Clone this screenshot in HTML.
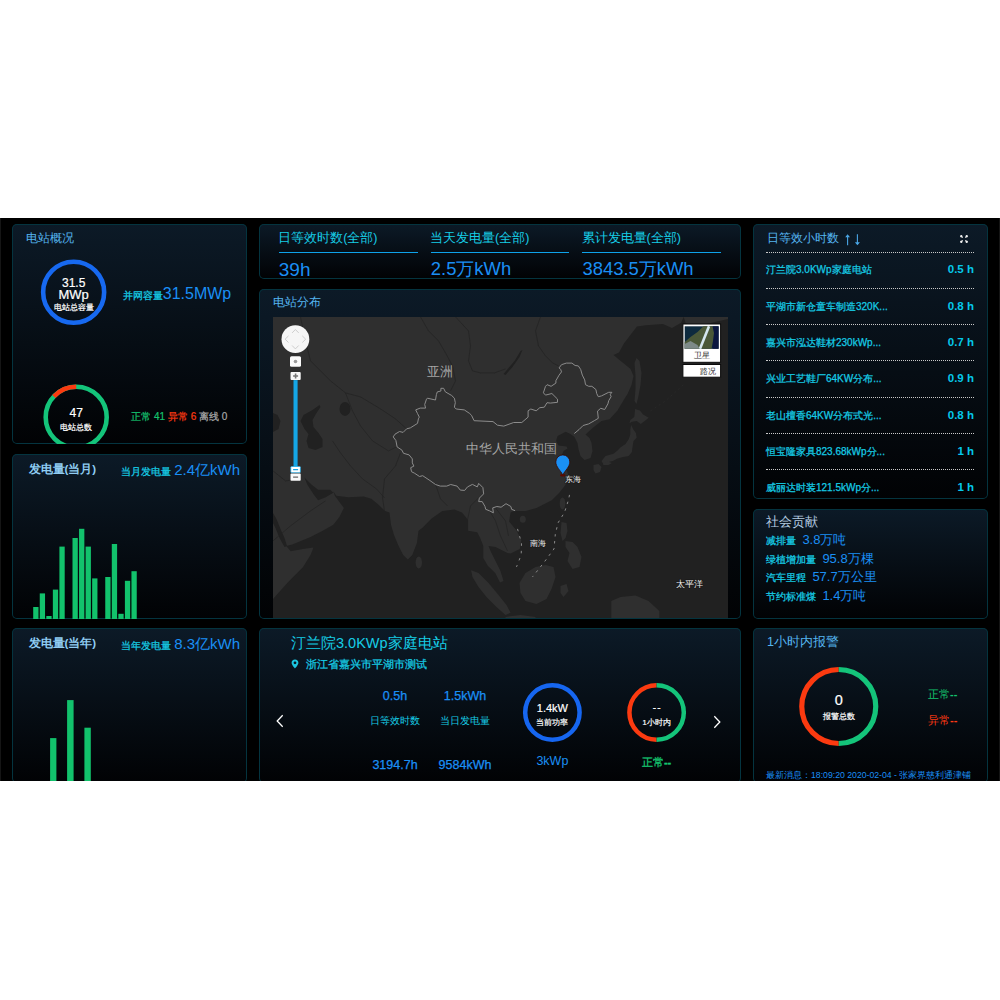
<!DOCTYPE html>
<html><head><meta charset="utf-8">
<style>
*{margin:0;padding:0;box-sizing:border-box}
html,body{width:1000px;height:1000px;background:#fff;overflow:hidden;font-family:"Liberation Sans",sans-serif}
#scr{position:absolute;left:0;top:218px;width:1000px;height:563px;background:#000;overflow:hidden}
#scr:before{content:"";position:absolute;left:0;top:0;width:1px;height:100%;background:#151515}
#scr:after{content:"";position:absolute;right:0;top:0;width:1px;height:100%;background:#151515}
.p{position:absolute;border-radius:5px;overflow:hidden;background:linear-gradient(180deg,#0c1a27 0%,#010204 100%);box-shadow:inset 0 0 0 1px #04343f}
.t{position:absolute;white-space:nowrap;line-height:1}
.ttl{color:#55b5f0;font-size:12.5px}
.cy{color:#16cde6;-webkit-text-stroke:0.25px #16cde6}
.bl{color:#1a8ff5;-webkit-text-stroke:0}
.wh{color:#fff;-webkit-text-stroke:0.2px #fff}
.gn{color:#14c26e}
.rd{color:#ff3a12}
.ctr{text-align:center}
.dl{position:absolute;left:13px;width:208px;height:0;border-top:1px dotted #c9c9c9}
.row{position:absolute;left:13px;width:208px;font-size:10px;line-height:1;color:#16cde6;-webkit-text-stroke:0.25px #16cde6;white-space:nowrap}
.row b{position:absolute;right:0;top:-1px;font-size:11.5px;color:#05c8ea;-webkit-text-stroke:0}
</style></head><body>
<div id="scr">
<!-- ============ LEFT COLUMN ============ -->
<div class="p" style="left:12px;top:6px;width:235px;height:220px">
  <div class="t ttl" style="left:13.5px;top:7.5px;font-size:12.2px">电站概况</div>
  <svg style="position:absolute;left:0;top:0" width="235" height="220">
    <circle cx="61.65" cy="68.25" r="30.5" fill="none" stroke="#1769f0" stroke-width="4.6"/>
    <g transform="translate(64.2,193.3)">
      <circle r="30.5" fill="none" stroke="#14c47a" stroke-width="4.6"/>
      <path d="M0,-30.5 A30.5,30.5 0 0 0 -22.3,-20.8" fill="none" stroke="#fb3a10" stroke-width="4.6"/>
    </g>
  </svg>
  <div class="t wh ctr" style="left:31.65px;width:60px;top:52.7px;font-size:12px">31.5</div>
  <div class="t wh ctr" style="left:31.65px;width:60px;top:63.7px;font-size:13px">MWp</div>
  <div class="t wh ctr" style="left:31.65px;width:60px;top:80px;font-size:7.6px">电站总容量</div>
  <div class="t cy" style="left:110.8px;top:62.3px;font-size:10px">并网容量<span class="bl" style="font-size:16px">31.5MWp</span></div>
  <div class="t wh ctr" style="left:34.2px;width:60px;top:183px;font-size:12px">47</div>
  <div class="t wh ctr" style="left:34.2px;width:60px;top:200px;font-size:7.6px">电站总数</div>
  <div class="t" style="left:119.2px;top:188px;font-size:10px;-webkit-text-stroke:0.2px currentColor"><span class="gn">正常 41</span> <span class="rd">异常 6</span> <span style="color:#aaa">离线 0</span></div>
</div>

<div class="p" style="left:12px;top:236px;width:235px;height:165px">
  <div class="t" style="left:16.5px;top:9.5px;font-size:11.5px;font-weight:bold;color:#8fcdf3">发电量(当月)</div>
  <div class="t cy" style="left:109.4px;top:8px;font-size:10px">当月发电量 <span class="bl" style="font-size:15px">2.4亿kWh</span></div>
  <svg style="position:absolute;left:0;top:0" width="235" height="165" id="mbar"><rect x="21.20" y="153.0" width="5.3" height="17.0" fill="#12c26c"/><rect x="27.75" y="139.4" width="5.3" height="30.6" fill="#12c26c"/><rect x="34.30" y="162.0" width="5.3" height="8.0" fill="#12c26c"/><rect x="40.85" y="135.6" width="5.3" height="34.4" fill="#12c26c"/><rect x="47.40" y="92.6" width="5.3" height="77.4" fill="#12c26c"/><rect x="60.50" y="84.0" width="5.3" height="86.0" fill="#12c26c"/><rect x="67.05" y="74.8" width="5.3" height="95.2" fill="#12c26c"/><rect x="73.60" y="92.6" width="5.3" height="77.4" fill="#12c26c"/><rect x="80.15" y="124.4" width="5.3" height="45.6" fill="#12c26c"/><rect x="93.25" y="123.0" width="5.3" height="47.0" fill="#12c26c"/><rect x="99.80" y="90.0" width="5.3" height="80.0" fill="#12c26c"/><rect x="106.35" y="159.8" width="5.3" height="10.2" fill="#12c26c"/><rect x="112.90" y="126.8" width="5.3" height="43.2" fill="#12c26c"/><rect x="119.45" y="117.2" width="5.3" height="52.8" fill="#12c26c"/></svg>
</div>

<div class="p" style="left:12px;top:410px;width:235px;height:155px">
  <div class="t" style="left:16.5px;top:9.5px;font-size:11.5px;font-weight:bold;color:#8fcdf3">发电量(当年)</div>
  <div class="t cy" style="left:109.4px;top:8px;font-size:10px">当年发电量 <span class="bl" style="font-size:15px">8.3亿kWh</span></div>
  <svg style="position:absolute;left:0;top:0" width="235" height="180">
    <rect x="38.1" y="110.1" width="6.3" height="70" fill="#12c26c"/>
    <rect x="55.1" y="72.1" width="6.5" height="110" fill="#12c26c"/>
    <rect x="72.4" y="99.7" width="6.4" height="80" fill="#12c26c"/>
  </svg>
</div>

<!-- ============ MIDDLE COLUMN ============ -->
<div class="p" style="left:259px;top:6px;width:482px;height:55px">
  <div class="t cy" style="left:19.2px;top:7.5px;font-size:12.5px;-webkit-text-stroke:0">日等效时数(全部)</div>
  <div class="t cy" style="left:171px;top:7.5px;font-size:12.5px;-webkit-text-stroke:0">当天发电量(全部)</div>
  <div class="t cy" style="left:322.5px;top:7.5px;font-size:12.5px;-webkit-text-stroke:0">累计发电量(全部)</div>
  <div style="position:absolute;left:19.7px;top:27.8px;width:139.3px;height:1.3px;background:#0ea2ea"></div>
  <div style="position:absolute;left:171.5px;top:27.8px;width:138.8px;height:1.3px;background:#0ea2ea"></div>
  <div style="position:absolute;left:323.3px;top:27.8px;width:138.6px;height:1.3px;background:#0ea2ea"></div>
  <div class="t bl" style="left:19.8px;top:35.5px;font-size:19px">39h</div>
  <div class="t bl" style="left:171.8px;top:35.5px;font-size:18.4px">2.5万kWh</div>
  <div class="t bl" style="left:323.5px;top:35.5px;font-size:18.4px">3843.5万kWh</div>
</div>

<div class="p" style="left:259px;top:71px;width:482px;height:330px">
  <div class="t ttl" style="left:13.5px;top:7px;font-size:12.2px">电站分布</div>
  <div id="map" style="position:absolute;left:13.5px;top:27.5px;width:455px;height:301.5px;background:#222;overflow:hidden"><svg width="455" height="301.5" viewBox="272.5 316.1 455 301.5" style="position:absolute;left:0;top:0"><rect x="272.5" y="316.1" width="455" height="301.5" fill="#2f2f2f"/>
<polygon points="683.2,316.1 727.5,316.1 727.5,617.6 272.5,617.6 272.5,598.2 287.2,581.5 302.4,566.3 310.0,554.1 313.0,546.5 302.4,548.0 290.2,550.3 285.7,545.0 291.8,543.5 310.0,536.0 322.2,529.8 332.8,523.8 338.9,516.2 343.4,507.0 338.9,501.0 334.3,494.9 332.8,490.3 335.8,494.9 348.0,496.4 363.2,495.6 370.8,497.9 378.4,504.0 384.5,510.1 389.0,511.6 390.5,523.8 393.6,534.4 398.1,545.0 402.7,554.1 407.3,558.7 411.8,554.1 416.4,542.0 418.0,529.8 422.0,526.8 431.1,517.7 441.8,510.1 453.9,508.6 461.5,511.6 467.6,519.2 467.6,529.8 476.7,531.4 479.8,537.4 482.8,545.0 482.8,557.2 487.3,564.8 494.9,572.4 499.5,581.5 503.0,580.0 500.0,570.0 495.0,560.0 490.0,550.0 488.0,545.0 495.0,546.0 503.0,550.0 507.0,552.0 510.1,552.6 519.3,548.0 520.8,539.0 516.2,529.8 508.6,520.7 510.1,511.6 513.2,510.0 525.3,510.0 536.0,507.0 551.2,499.4 558.8,491.8 564.9,484.2 568.0,475.1 566.0,468.0 563.0,462.0 561.0,455.0 563.0,450.0 567.0,447.5 566.0,445.5 558.0,444.5 555.6,440.0 557.0,435.0 565.2,430.8 570.0,433.0 574.0,436.0 577.0,442.0 578.0,448.0 580.0,455.0 584.0,459.0 590.0,457.0 592.0,450.0 591.0,442.0 589.0,437.0 585.0,433.6 593.0,426.4 601.0,420.0 609.0,418.4 617.0,409.6 622.6,400.0 627.0,393.0 631.0,384.0 633.0,375.0 630.0,368.0 624.0,363.0 618.6,358.8 613.0,354.0 618.5,351.7 623.4,342.6 636.4,325.7 645.5,324.4 662.4,323.1 671.5,327.0 680.6,321.8" fill="#212121"/>
<polygon points="317.0,400.0 319.0,404.0 312.0,409.0 303.0,414.0 300.0,420.0 304.0,428.0 308.0,433.0 306.0,440.0 308.0,447.0 315.0,449.0 322.0,446.0 322.0,438.0 318.0,432.0 313.0,426.0 312.0,419.0 316.0,412.0 320.0,406.0" fill="#212121"/>
<ellipse cx="344.5" cy="408" rx="5.5" ry="7" fill="#212121"/>
<polygon points="272.5,412.0 277.0,414.0 280.0,420.0 278.0,428.0 272.5,431.0" fill="#212121"/>
<polygon points="303.9,476.6 311.5,484.2 317.6,488.8 329.8,488.8 332.8,491.8 325.2,496.4 317.6,499.4 313.0,493.4 307.0,484.2" fill="#212121"/>
<polygon points="272.5,512.0 276.0,518.0 280.0,528.0 284.0,537.0 286.5,545.0 284.0,546.0 279.0,537.0 275.0,527.0 272.5,522.0" fill="#212121"/>
<polygon points="503.0,373.0 508.0,367.0 514.0,360.0 520.0,350.0 522.0,349.0 519.0,356.0 512.0,366.0 505.0,374.0" fill="#212121"/>
<polygon points="630.6,424.0 633.0,428.8 635.4,432.0 636.2,436.8 633.0,440.0 632.2,444.8 631.4,451.2 628.2,455.2 622.6,456.0 617.0,457.6 612.2,460.0 609.0,460.8 603.4,464.0 601.0,460.0 605.0,455.2 613.0,452.8 617.0,449.6 620.2,446.4 625.0,443.2 628.2,438.4 629.8,433.6 629.8,428.8" fill="#2f2f2f"/>
<polygon points="634.6,408.0 639.4,409.6 642.6,413.6 648.2,416.8 644.2,420.0 640.2,423.2 636.2,420.0 631.4,420.8 629.0,422.4 629.8,419.2 633.8,416.0" fill="#2f2f2f"/>
<polygon points="593.0,464.0 598.0,463.0 601.0,466.0 599.5,471.0 595.0,472.5 593.0,469.0" fill="#2f2f2f"/>
<polygon points="602.6,461.5 608.0,460.8 611.4,462.0 608.0,464.0 603.0,464.2" fill="#2f2f2f"/>
<polygon points="636.0,357.0 639.0,360.0 641.0,372.0 640.0,384.0 638.0,395.0 636.0,403.0 634.0,400.0 635.0,388.0 635.0,375.0 634.0,362.0" fill="#2f2f2f"/>
<polygon points="683.2,316.1 727.5,316.1 727.5,318.0 710.0,322.0 695.0,326.0 685.0,322.0" fill="#2f2f2f"/>
<polygon points="561.0,521.0 566.0,522.0 567.0,530.0 565.0,537.0 562.0,540.0 560.0,532.0" fill="#2f2f2f"/>
<polygon points="565.0,540.0 572.0,541.0 577.0,546.0 581.0,556.0 579.0,566.0 572.0,568.0 567.0,560.0 569.0,552.0 565.0,546.0" fill="#2f2f2f"/>
<polygon points="519.0,582.0 525.0,572.0 535.0,566.0 545.0,564.0 553.0,566.0 555.0,576.0 551.0,588.0 546.0,598.0 536.0,603.0 525.0,600.0 520.0,592.0" fill="#2f2f2f"/>
<polygon points="470.6,569.3 478.0,572.0 488.0,582.0 498.0,594.0 506.0,604.0 510.1,611.9 505.0,614.0 496.0,606.0 486.0,596.0 478.0,586.0 472.0,576.0" fill="#2f2f2f"/>
<polygon points="505.0,616.0 520.0,614.0 535.0,616.0 535.0,617.6 505.0,617.6" fill="#2f2f2f"/>
<polygon points="560.0,585.0 566.0,583.0 568.0,590.0 563.0,596.0 560.0,592.0" fill="#2f2f2f"/>
<polygon points="610.8,600.0 620.0,596.0 635.0,594.7 648.0,600.0 658.8,610.0 658.8,617.6 610.8,617.6" fill="#2f2f2f"/>
<ellipse cx="562" cy="502.5" rx="2.8" ry="6" fill="#2f2f2f"/>
<ellipse cx="522.3" cy="518.4" rx="3" ry="3.5" fill="#2f2f2f"/>
<ellipse cx="418.3" cy="561.7" rx="3.2" ry="6" fill="#2f2f2f"/>
<polyline points="300.0,316.0 305.0,340.0 310.0,360.0 330.0,380.0 345.0,392.0 360.0,396.0 380.0,408.0 395.0,418.0 405.0,427.0" fill="none" stroke="#232323" stroke-width="0.7" stroke-linejoin="round"/>
<polyline points="420.0,316.0 428.0,330.0 438.0,340.0 445.0,352.0 452.0,365.0 455.0,380.0 450.0,390.0" fill="none" stroke="#232323" stroke-width="0.7" stroke-linejoin="round"/>
<polyline points="455.0,316.0 468.0,330.0 470.0,345.0 468.0,360.0 472.0,370.0 480.0,372.0 494.0,372.0 505.0,368.0" fill="none" stroke="#232323" stroke-width="0.7" stroke-linejoin="round"/>
<polyline points="540.0,316.0 535.0,330.0 538.0,345.0 545.0,355.0 552.0,362.0 558.0,365.0" fill="none" stroke="#232323" stroke-width="0.7" stroke-linejoin="round"/>
<polyline points="345.0,392.0 352.0,410.0 360.0,425.0 372.0,440.0 388.0,450.0 396.0,446.0" fill="none" stroke="#232323" stroke-width="0.7" stroke-linejoin="round"/>
<polyline points="332.0,440.0 340.0,452.0 350.0,465.0 362.0,478.0 376.0,488.0 384.0,497.0" fill="none" stroke="#232323" stroke-width="0.7" stroke-linejoin="round"/>
<polyline points="400.0,452.0 395.0,465.0 384.0,478.0 382.0,497.0 384.0,510.0" fill="none" stroke="#232323" stroke-width="0.7" stroke-linejoin="round"/>
<polyline points="435.0,483.0 440.0,498.0 447.0,505.0" fill="none" stroke="#232323" stroke-width="0.7" stroke-linejoin="round"/>
<polyline points="467.0,519.0 470.0,505.0 478.0,497.0" fill="none" stroke="#232323" stroke-width="0.7" stroke-linejoin="round"/>
<polyline points="489.0,510.0 495.0,520.0 500.0,535.0 507.0,550.0" fill="none" stroke="#232323" stroke-width="0.7" stroke-linejoin="round"/>
<polyline points="495.0,507.0 505.0,520.0 508.0,535.0" fill="none" stroke="#232323" stroke-width="0.7" stroke-linejoin="round"/>
<polyline points="272.5,470.0 285.0,480.0 300.0,478.0" fill="none" stroke="#232323" stroke-width="0.7" stroke-linejoin="round"/>
<polyline points="272.5,540.0 290.0,525.0 310.0,510.0 325.0,500.0" fill="none" stroke="#232323" stroke-width="0.7" stroke-linejoin="round"/>
<polyline points="514.6,509.8 511.1,508.4 510.4,505.6 505.5,502.8 500.6,506.3 496.4,505.6 492.2,507.0 492.9,511.9 488.7,509.8 485.2,508.4 484.5,505.6 481.7,500.7 478.2,500.7 478.9,497.2 483.1,493.0 482.4,486.7 478.2,482.5 476.8,486.0 471.9,483.5 467.0,486.0 464.2,489.5 459.8,489.2 456.6,485.2 450.2,483.6 446.2,485.2 439.8,485.2 435.0,483.6 429.4,479.6 422.2,474.8 419.0,475.6 414.2,472.4 411.0,470.8 410.2,466.8 413.4,465.2 411.8,462.0 411.8,458.0 408.6,454.0 403.0,452.4 401.4,449.2 396.6,446.0 395.4,439.6 392.7,436.0 394.5,433.3 399.0,430.6 402.6,431.5 406.2,427.9 409.8,427.0 417.0,422.5 417.9,418.0 418.8,416.2 417.0,412.6 415.2,409.0 419.7,407.2 425.1,407.2 424.2,403.6 426.0,398.2 426.9,397.3 435.0,399.1 435.9,393.7 436.8,391.0 440.4,390.1 440.4,387.4 443.1,387.4 444.9,391.0 451.2,394.6 453.9,397.3 454.8,401.8 453.9,406.3 455.7,408.1 463.8,409.0 469.2,412.6 471.0,414.4 473.6,419.8 492.5,420.7 497.0,424.3 503.3,425.2 513.2,421.6 521.3,421.6 527.6,416.2 527.6,409.9 530.3,408.1 535.7,409.9 539.3,406.8 543.8,406.3 546.5,401.8 549.8,402.2 557.0,401.4 557.0,398.2 551.4,392.6 545.0,394.2 542.9,391.9 545.0,385.4 546.6,383.8 550.6,385.4 555.4,382.2 555.4,379.8 558.6,374.2 561.0,371.0 560.2,368.6 558.6,367.0 561.0,363.8 565.8,362.2 571.4,362.2 574.6,364.6 577.8,365.0 580.2,368.6 581.8,374.2 584.2,379.0 585.0,383.8 588.2,385.4 591.4,385.4 595.4,388.6 596.2,392.6 597.8,395.8 601.0,395.0 608.2,391.4 611.4,391.4 609.8,393.4 610.6,395.8 608.2,399.8 607.4,403.0 604.2,408.6 600.2,407.4 597.0,410.2 597.8,417.4 593.8,419.8 588.2,423.0 582.6,424.6 578.6,428.6 573.8,432.6" fill="none" stroke="#8c8c8c" stroke-width="1.0" stroke-linejoin="round"/>
<polyline points="569.0,494.0 568.0,499.0 564.0,511.5 557.5,522.0 554.8,533.5 553.5,548.0 543.5,561.5 532.0,576.0" fill="none" stroke="#8a8a8a" stroke-width="1" stroke-linejoin="round" stroke-dasharray="2.5 4.5"/>
<polyline points="517.0,528.0 521.0,542.0 520.7,554.0 516.0,566.0" fill="none" stroke="#8a8a8a" stroke-width="1" stroke-linejoin="round" stroke-dasharray="2.5 5"/>
<polyline points="650.0,410.0 665.0,400.0 685.0,382.0" fill="none" stroke="#2a2a2a" stroke-width="0.8" stroke-linejoin="round" stroke-dasharray="2 3"/>
<text x="426.5" y="375.3" font-size="12.5" fill="#a5a5a5" font-family="Liberation Sans, sans-serif">亚洲</text>
<text x="465.7" y="452.6" font-size="13" fill="#a5a5a5" font-family="Liberation Sans, sans-serif">中华人民共和国</text>
<text x="564.5" y="481.3" font-size="8" fill="#eee" font-family="Liberation Sans, sans-serif" stroke="#1a1a1a" stroke-width="1.6" paint-order="stroke" stroke-linejoin="round">东海</text>
<text x="529.9" y="545.6" font-size="8" fill="#eee" font-family="Liberation Sans, sans-serif" stroke="#1a1a1a" stroke-width="1.6" paint-order="stroke" stroke-linejoin="round">南海</text>
<text x="675.5" y="586.3" font-size="9" fill="#eee" font-family="Liberation Sans, sans-serif" stroke="#1a1a1a" stroke-width="1.6" paint-order="stroke" stroke-linejoin="round">太平洋</text>
<ellipse cx="562.3" cy="474.3" rx="2.8" ry="1.3" fill="#5a0a00"/>
<path d="M562.3,474 C560,469.5 555.3,466 555.3,461 A7,7 0 1 1 569.3,461 C569.3,466 564.6,469.5 562.3,474 Z" fill="#1a90f5" stroke="#3a0800" stroke-width="0.8"/>
<circle cx="294.9" cy="338.3" r="13.9" fill="#f6f6f6"/>
<path d="M291.6,332 L294.9,328.6 L298.2,332 M291.6,344.6 L294.9,348 L298.2,344.6 M288,335 L284.6,338.3 L288,341.6 M301.8,335 L305.2,338.3 L301.8,341.6" fill="none" stroke="#c8c8c8" stroke-width="0.9"/>
<rect x="289.5" y="355.4" width="11" height="10.5" rx="1.5" fill="#fafafa"/><circle cx="295" cy="360.6" r="1.8" fill="#9a9a9a"/>
<rect x="290" y="371" width="10.2" height="8.2" rx="1" fill="#fafafa"/><path d="M292.6,375.1 H297.6 M295.1,372.6 V377.6" stroke="#777" stroke-width="1.6"/>
<rect x="293" y="379.2" width="4.1" height="86.7" fill="#15a6e6"/>
<rect x="290.3" y="465.6" width="9.6" height="6.2" rx="0.8" fill="#fff" stroke="#15a6e6" stroke-width="0.7"/><path d="M292.6,468.7 H297.6" stroke="#15a6e6" stroke-width="1.2"/>
<rect x="290" y="472.7" width="10.2" height="7.2" rx="0.8" fill="#fafafa"/><path d="M292.6,476.3 H297.6" stroke="#666" stroke-width="1.3"/>
<rect x="682.4" y="323.1" width="37.7" height="38.3" fill="#fff" stroke="#0a0a0a" stroke-width="1"/>
<rect x="684.2" y="325.4" width="33.9" height="22.5" fill="#0d2a3e"/>
<polygon points="712,325.4 718.1,325.4 718.1,347.9 712,347.9" fill="#0b1740"/>
<polygon points="684.2,347.9 684.2,341 690,336 697,331 703,325.4 712,325.4 713.5,332 712.5,340 711,347.9" fill="#4a5838"/>
<polygon points="684.2,347.9 684.2,343 690,340 697,344 699,347.9" fill="#7d8a88"/>
<path d="M708.5,325.4 L699.5,347.9" stroke="#d4e6ee" stroke-width="2.6"/>
<text x="701.8" y="357.3" font-size="8" fill="#333" text-anchor="middle" font-family="Liberation Sans, sans-serif">卫星</text>
<rect x="682.4" y="363.6" width="37.7" height="12.7" fill="#fff" stroke="#0a0a0a" stroke-width="1"/>
<text x="707.5" y="373.4" font-size="8" fill="#333" text-anchor="middle" font-family="Liberation Sans, sans-serif">路况</text></svg></div>
</div>

<div class="p" style="left:259px;top:410px;width:482px;height:155px">
  <div class="t cy" style="left:32px;top:8.3px;font-size:14.5px;-webkit-text-stroke:0">汀兰院3.0KWp家庭电站</div>
  <svg style="position:absolute;left:32px;top:31px" width="8" height="10" viewBox="0 0 8 10"><path d="M4,0.5 C1.9,0.5 0.6,2 0.6,3.8 C0.6,6 4,9.5 4,9.5 C4,9.5 7.4,6 7.4,3.8 C7.4,2 6.1,0.5 4,0.5 Z M4,2.4 A1.4,1.4 0 1 1 4,5.2 A1.4,1.4 0 1 1 4,2.4Z" fill="#1cc6e0" fill-rule="evenodd"/></svg>
  <div class="t cy" style="left:47px;top:31px;font-size:11px">浙江省嘉兴市平湖市测试</div>
  <svg style="position:absolute;left:16px;top:86px" width="10" height="16" viewBox="0 0 10 16"><path d="M7.7,1.3 L2.2,7 L7.7,12.7" stroke="#fff" stroke-width="1.3" fill="none"/></svg>
  <div class="t bl ctr" style="left:106px;width:60px;top:61.5px;font-size:12.5px;-webkit-text-stroke:0.25px #1a8ff5">0.5h</div>
  <div class="t bl ctr" style="left:176px;width:60px;top:61.5px;font-size:12.5px;-webkit-text-stroke:0.25px #1a8ff5">1.5kWh</div>
  <div class="t cy ctr" style="left:106px;width:60px;top:88px;font-size:9.5px;-webkit-text-stroke:0">日等效时数</div>
  <div class="t cy ctr" style="left:176px;width:60px;top:88px;font-size:9.5px;-webkit-text-stroke:0">当日发电量</div>
  <div class="t bl ctr" style="left:106px;width:60px;top:130.5px;font-size:12.5px;-webkit-text-stroke:0.25px #1a8ff5">3194.7h</div>
  <div class="t bl ctr" style="left:176px;width:60px;top:130.5px;font-size:12.5px;-webkit-text-stroke:0.25px #1a8ff5">9584kWh</div>
  <svg style="position:absolute;left:0;top:0" width="482" height="180">
    <circle cx="293.4" cy="84.5" r="27.2" fill="none" stroke="#1666f0" stroke-width="4.5"/>
    <path d="M397.6,57.3 A27.2,27.2 0 0 0 397.6,111.7" fill="none" stroke="#fb3a10" stroke-width="4.5"/>
    <path d="M397.6,57.3 A27.2,27.2 0 0 1 397.6,111.7" fill="none" stroke="#14c47a" stroke-width="4.5"/>
  </svg>
  <div class="t wh ctr" style="left:263.4px;width:60px;top:75px;font-size:11px;-webkit-text-stroke:0.2px #fff">1.4kW</div>
  <div class="t wh ctr" style="left:263.4px;width:60px;top:91px;font-size:7.5px">当前功率</div>
  <div class="t bl ctr" style="left:263.4px;width:60px;top:127px;font-size:12.5px">3kWp</div>
  <div class="t wh ctr" style="left:368.2px;width:60px;top:75px;font-size:10px;letter-spacing:1.2px">--</div>
  <div class="t wh ctr" style="left:367.6px;width:60px;top:91px;font-size:7.5px">1小时内</div>
  <div class="t gn ctr" style="left:367.6px;width:60px;top:129px;font-size:11px;-webkit-text-stroke:0.3px #14c26e">正常<b>--</b></div>
  <svg style="position:absolute;left:453.5px;top:87px" width="10" height="16" viewBox="0 0 10 16"><path d="M1.3,1.3 L6.8,7 L1.3,12.7" stroke="#fff" stroke-width="1.3" fill="none"/></svg>
</div>

<!-- ============ RIGHT COLUMN ============ -->
<div class="p" style="left:753px;top:6px;width:235px;height:275px">
  <div class="t ttl" style="left:13.5px;top:8.3px;font-size:12.3px">日等效小时数</div><svg style="position:absolute;left:92px;top:8px" width="20" height="16" viewBox="845 232 20 16"><path d="M847.6,245.2 V236.5 M857.4,234.3 V243" stroke="#4aa6e6" stroke-width="1.1" fill="none"/><path d="M845.2,237.3 L847.6,234.2 L850,237.3Z M854.9,242.2 L857.4,245.3 L859.9,242.2Z" fill="#4aa6e6"/></svg>
  <svg style="position:absolute;left:205.4px;top:9.3px" width="12" height="12" viewBox="-6 -6 12 12"><path d="M-0.9,-0.9 L-3.9,-2.0 L-3.7,-3.7 L-2.0,-3.9Z M0.9,-0.9 L3.9,-2.0 L3.7,-3.7 L2.0,-3.9Z M-0.9,0.9 L-3.9,2.0 L-3.7,3.7 L-2.0,3.9Z M0.9,0.9 L3.9,2.0 L3.7,3.7 L2.0,3.9Z" fill="#f2f2f2"/></svg>
  <div class="dl" style="top:27.5px"></div>
  <div class="row" style="top:41px">汀兰院3.0KWp家庭电站<b>0.5 h</b></div>
  <div class="dl" style="top:63.5px"></div>
  <div class="row" style="top:77.5px">平湖市新仓童车制造320K...<b>0.8 h</b></div>
  <div class="dl" style="top:99.8px"></div>
  <div class="row" style="top:114px">嘉兴市泓达鞋材230kWp...<b>0.7 h</b></div>
  <div class="dl" style="top:136px"></div>
  <div class="row" style="top:150px">兴业工艺鞋厂64KW分布...<b>0.9 h</b></div>
  <div class="dl" style="top:172.5px"></div>
  <div class="row" style="top:186.5px">老山檀香64KW分布式光...<b>0.8 h</b></div>
  <div class="dl" style="top:208.8px"></div>
  <div class="row" style="top:222.5px">恒宝隆家具823.68kWp分...<b>1 h</b></div>
  <div class="dl" style="top:244.8px"></div>
  <div class="row" style="top:259px">威丽达时装121.5kWp分...<b>1 h</b></div>
</div>

<div class="p" style="left:753px;top:291px;width:235px;height:110px">
  <div class="t" style="left:13px;top:7px;font-size:12.5px;color:#b5cde3">社会贡献</div>
  <div class="t cy" style="left:13px;top:23.5px;font-size:10px">减排量 <span class="bl" style="font-size:13px">&nbsp;3.8万吨</span></div>
  <div class="t cy" style="left:13px;top:43px;font-size:10px">绿植增加量 <span class="bl" style="font-size:13px">&nbsp;95.8万棵</span></div>
  <div class="t cy" style="left:13px;top:61px;font-size:10px">汽车里程 <span class="bl" style="font-size:13px">&nbsp;57.7万公里</span></div>
  <div class="t cy" style="left:13px;top:79.5px;font-size:10px">节约标准煤 <span class="bl" style="font-size:13px">&nbsp;1.4万吨</span></div>
</div>

<div class="p" style="left:753px;top:410px;width:235px;height:155px">
  <div class="t ttl" style="left:14px;top:8px">1小时内报警</div>
  <svg style="position:absolute;left:0;top:0" width="235" height="180">
    <path d="M85.75,41.5 A37,37 0 0 0 85.75,115.5" fill="none" stroke="#fb3a10" stroke-width="5.2"/>
    <path d="M85.75,41.5 A37,37 0 0 1 85.75,115.5" fill="none" stroke="#14c47a" stroke-width="5.2"/>
  </svg>
  <div class="t wh ctr" style="left:55.75px;width:60px;top:65px;font-size:14.5px">0</div>
  <div class="t wh ctr" style="left:55.75px;width:60px;top:84.5px;font-size:7.8px">报警总数</div>
  <div class="t gn" style="left:175px;top:60.5px;font-size:11px">正常<b>--</b></div>
  <div class="t rd" style="left:175px;top:86.5px;font-size:11px">异常<b>--</b></div>
  <div class="t" style="left:13px;top:143.3px;font-size:8.7px;color:#1a8ff5">最新消息：18:09:20 2020-02-04 - 张家界慈利通津铺</div>
</div>
</div>
</body></html>
